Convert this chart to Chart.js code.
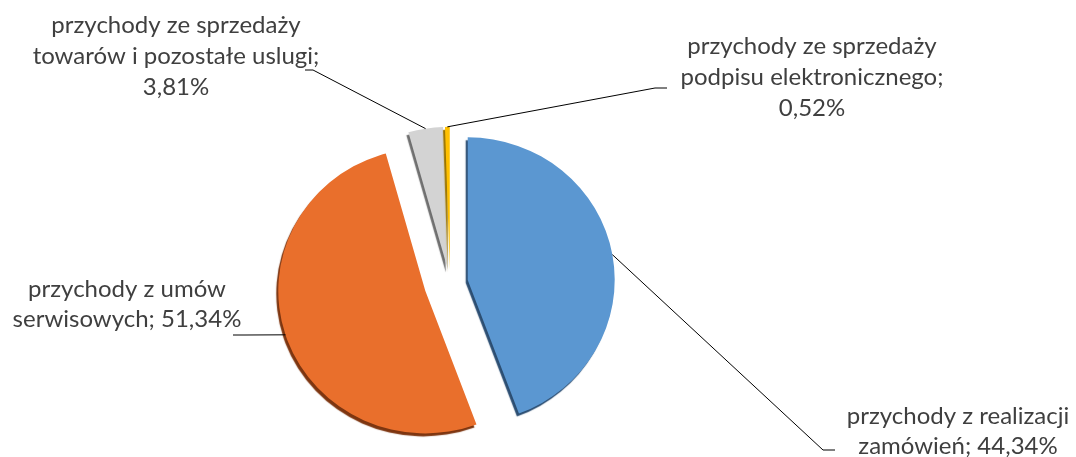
<!DOCTYPE html>
<html>
<head>
  <meta charset="utf-8">
  <title>Struktura przychodów</title>
  <script src="https://cdn.jsdelivr.net/npm/chart.js"></script>
  <style>
    body { margin: 0; background: #fff; }
    #wrap { width: 1076px; height: 457px; position: relative; }
  </style>
</head>
<body>
  <div id="wrap"><canvas id="pieChart"></canvas></div>

  <script>
    // categories (line-broken as in the original labels) and shares in %
    const categories = [
      ['przychody z realizacji', 'zamówień'],
      ['przychody z umów', 'serwisowych'],
      ['przychody ze sprzedaży', 'towarów i pozostałe uslugi'],
      ['przychody ze sprzedaży', 'podpisu elektronicznego']
    ];
    const shares = [44.34, 51.34, 3.81, 0.52];

    const sliceColors = ['#5b97d1', '#e96f2c', '#d3d3d3', '#ffc000'];
    const edgeColors = ['#2c4e72', '#7d3510', '#6f6f6f', '#9a7400'];

    const fmtPct = v => v.toFixed(2).replace('.', ',') + '%';

    // exploded slices, slight tilt + dark 3D-ish edge
    const explodePlugin = {
      id: 'explode',
      beforeDatasetDraw(chart, args, opts) {
        const ctx = chart.ctx;
        args.meta.data.forEach((arc, i) => {
          const mid = (arc.startAngle + arc.endAngle) / 2;
          const d = opts.distance[i];
          ctx.save();
          ctx.translate(arc.x, arc.y);
          ctx.scale(1, opts.squash);
          ctx.translate(-arc.x, -arc.y);
          ctx.translate(Math.cos(mid) * d, Math.sin(mid) * d);
          ctx.shadowColor = opts.edge[i];
          ctx.shadowOffsetX = -2;
          ctx.shadowOffsetY = 3;
          ctx.shadowBlur = 1;
          arc.draw(ctx);
          ctx.restore();
        });
        return false;
      }
    };

    // labels with leader lines
    const calloutPlugin = {
      id: 'callouts',
      afterDatasetsDraw(chart, args, opts) {
        const ctx = chart.ctx;
        const arcs = chart.getDatasetMeta(0).data;
        const ex = chart.options.plugins.explode;
        ctx.save();
        arcs.forEach((arc, i) => {
          const spot = opts.spots[i];
          const mid = (arc.startAngle + arc.endAngle) / 2;
          const r = arc.outerRadius + ex.distance[i];
          const ax = arc.x + Math.cos(mid) * r;
          const ay = arc.y + Math.sin(mid) * r * ex.squash;

          ctx.strokeStyle = '#000';
          ctx.lineWidth = 1;
          ctx.beginPath();
          ctx.moveTo(ax, ay);
          ctx.lineTo(spot.elbow[0], spot.elbow[1]);
          ctx.lineTo(spot.end[0], spot.end[1]);
          ctx.stroke();

          const lines = categories[i].slice();
          lines[lines.length - 1] += ';';
          if (spot.pctOwnLine) lines.push(fmtPct(shares[i]));
          else lines[lines.length - 1] += ' ' + fmtPct(shares[i]);

          ctx.fillStyle = '#3f3f3f';
          ctx.font = '24px Lato, "Open Sans", sans-serif';
          ctx.textAlign = 'center';
          ctx.textBaseline = 'alphabetic';
          lines.forEach((t, k) => ctx.fillText(t, spot.x, spot.y + k * spot.lh));
        });
        ctx.restore();
      }
    };

    new Chart(document.getElementById('pieChart'), {
      type: 'pie',
      data: {
        labels: categories,
        datasets: [{
          data: shares,
          backgroundColor: sliceColors,
          borderWidth: 0
        }]
      },
      options: {
        responsive: true,
        maintainAspectRatio: false,
        animation: false,
        radius: 147,
        layout: { padding: { left: 4, right: 180, top: 109, bottom: 0 } },
        plugins: {
          legend: { display: false },
          tooltip: { enabled: false },
          explode: { distance: [18, 26, 14, 14], edge: edgeColors, squash: 0.97 },
          callouts: {
            spots: [
              { x: 958, y: 424, lh: 30, elbow: [823, 450], end: [835, 450], pctOwnLine: false },
              { x: 127, y: 297, lh: 30, elbow: [245, 335], end: [233, 335], pctOwnLine: false },
              { x: 176, y: 33, lh: 31, elbow: [313, 70], end: [305, 70], pctOwnLine: true },
              { x: 812, y: 54, lh: 31, elbow: [655, 88], end: [667, 88], pctOwnLine: true }
            ]
          }
        }
      },
      plugins: [explodePlugin, calloutPlugin]
    });
  </script>
</body>
</html>
